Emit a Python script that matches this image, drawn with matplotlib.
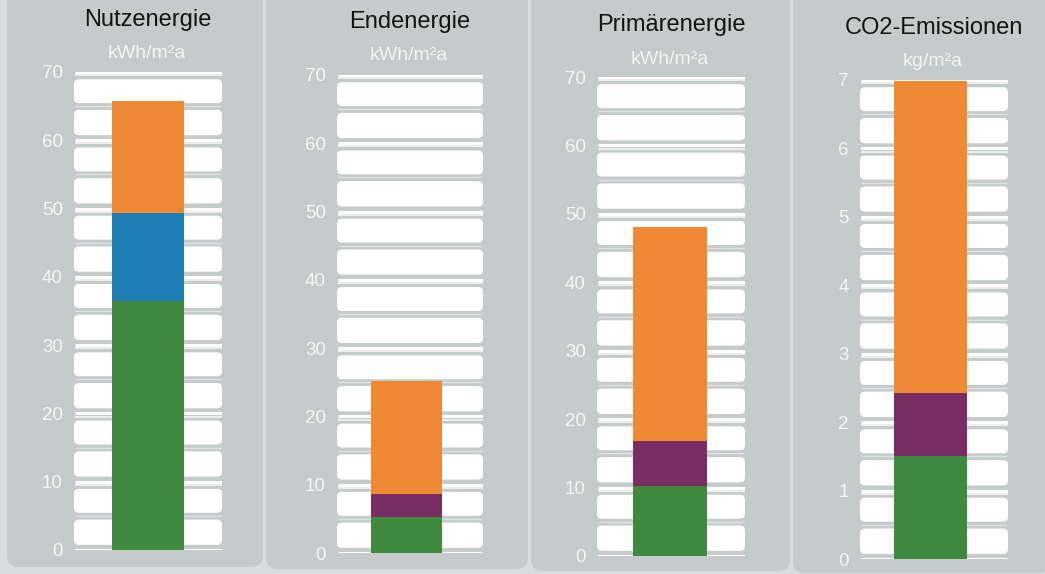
import matplotlib
matplotlib.use("Agg")
import matplotlib.pyplot as plt
from matplotlib.patches import FancyBboxPatch

plt.rcParams['font.family'] = ['Liberation Sans', 'DejaVu Sans']

# ---- data ----
titles = ["Nutzenergie", "Endenergie", "Primärenergie", "CO2-Emissionen"]
units = ["kWh/m²a", "kWh/m²a", "kWh/m²a", "kg/m²a"]
axis_max = [70, 70, 70, 7]
tick_step = [10, 10, 10, 1]

# stacked segments, bottom to top: (value, colour key)
nutz_green = 36.5
nutz_blue = 12.8
nutz_orange = 16.5

end_green = 5.3
end_purple = 3.3
end_orange = 16.6

prim_green = 10.3
prim_purple = 6.5
prim_orange = 31.3

co2_green = 1.5
co2_purple = 0.93
co2_orange = 4.55

stacks = [
    [(nutz_green, "green"), (nutz_blue, "blue"), (nutz_orange, "orange")],
    [(end_green, "green"), (end_purple, "purple"), (end_orange, "orange")],
    [(prim_green, "green"), (prim_purple, "purple"), (prim_orange, "orange")],
    [(co2_green, "green"), (co2_purple, "purple"), (co2_orange, "orange")],
]

colors = {
    "green": "#3f8a3e",
    "blue": "#1e7db5",
    "purple": "#7a2d62",
    "orange": "#f08933",
}

# ---- layout (pixels) ----
W, H = 1045, 574
# panel backgrounds: x0, x1, bottom
panels = [(7, 263), (266, 528), (531, 790), (793, 1050)]
panel_bottom = [567, 569, 571, 573]
# scale band x-extent, zero pixel and top-tick pixel
band_x = [(74, 222), (337, 483), (597, 745), (860, 1008)]
bar_x = [(112, 184), (371, 442), (633, 707), (894, 967)]
y_zero = [550, 553, 556, 559]
y_top = [72, 75, 77, 80]
title_base = [26, 28, 31, 34]
unit_y = [53, 56, 59, 62]

fig = plt.figure(figsize=(W / 100, H / 100), dpi=100)
fig.patch.set_facecolor("#d8dcdc")

bg_ax = fig.add_axes([0, 0, 1, 1])
bg_ax.set_xlim(0, W)
bg_ax.set_ylim(H, 0)
bg_ax.axis("off")
for (px0, px1), pb in zip(panels, panel_bottom):
    bg_ax.add_patch(FancyBboxPatch((px0, -40), px1 - px0, pb + 40,
                                   boxstyle="round,pad=0,rounding_size=12",
                                   fc="#c5cacb", ec="none"))

for i in range(4):
    bx0, bx1 = band_x[i]
    ax = fig.add_axes([bx0 / W, 1 - y_zero[i] / H, (bx1 - bx0) / W,
                       (y_zero[i] - y_top[i]) / H])
    ax.set_xlim(0, 1)
    ymax = axis_max[i]
    ax.set_ylim(0, ymax)
    ax.patch.set_alpha(0)
    for s in ax.spines.values():
        s.set_visible(False)

    px_w = bx1 - bx0
    px_h = y_zero[i] - y_top[i]
    ux = 1 / px_w
    uy = ymax / px_h
    slot = tick_step[i] / 2
    n_slots = int(round(ymax / slot))

    # rounded white bands, two per major interval
    r = 5 * ux
    for k in range(n_slots):
        base = k * slot
        if k % 2 == 0:
            lo, hi = 0.15, 0.89
        else:
            lo, hi = 0.09, 0.79
        ax.add_patch(FancyBboxPatch((0, base + lo * slot), 1, (hi - lo) * slot,
                                    boxstyle=f"round,pad=0,rounding_size={r}",
                                    mutation_aspect=uy / ux,
                                    fc="white", ec="none", zorder=1))
        if k % 2 == 1:
            ax.plot([0.01, 0.99], [base, base], color="#dfe2e2", lw=1,
                    zorder=1, solid_capstyle="butt")

    # double white rule at each major tick
    t = 0
    while t <= ymax + 1e-9:
        ax.plot([0.01, 1.0], [t, t], color="white", lw=2.2, zorder=1,
                solid_capstyle="butt")
        if t > 0:
            ax.plot([0.01, 1.0], [t - 0.09 * slot] * 2, color="#f4f5f5",
                    lw=1.2, zorder=1, solid_capstyle="butt")
        t += tick_step[i]

    # stacked bar
    c0 = ((bar_x[i][0] + bar_x[i][1]) / 2 - bx0) / px_w
    bw = (bar_x[i][1] - bar_x[i][0]) / px_w
    bottom = 0
    for val, key in stacks[i]:
        ax.bar(c0, val, width=bw, bottom=bottom, color=colors[key],
               edgecolor="none", zorder=3)
        bottom += val

    ticks = [tick_step[i] * j for j in range(int(round(ymax / tick_step[i])) + 1)]
    ax.set_yticks(ticks)
    ax.set_yticklabels([str(v) for v in ticks])
    ax.set_xticks([])
    ax.tick_params(axis="y", length=0, pad=8, labelsize=13.5,
                   labelcolor="#f5f6f6")

    bg_ax.text((bx0 + bx1) / 2, title_base[i], titles[i], ha="center",
               va="baseline", fontsize=17, color="#141414")
    bg_ax.text((bx0 + bx1) / 2 - 1, unit_y[i], units[i], ha="center",
               va="center", fontsize=14, color="#f3f4f4")

fig.savefig("out.png", dpi=100, facecolor=fig.get_facecolor())
